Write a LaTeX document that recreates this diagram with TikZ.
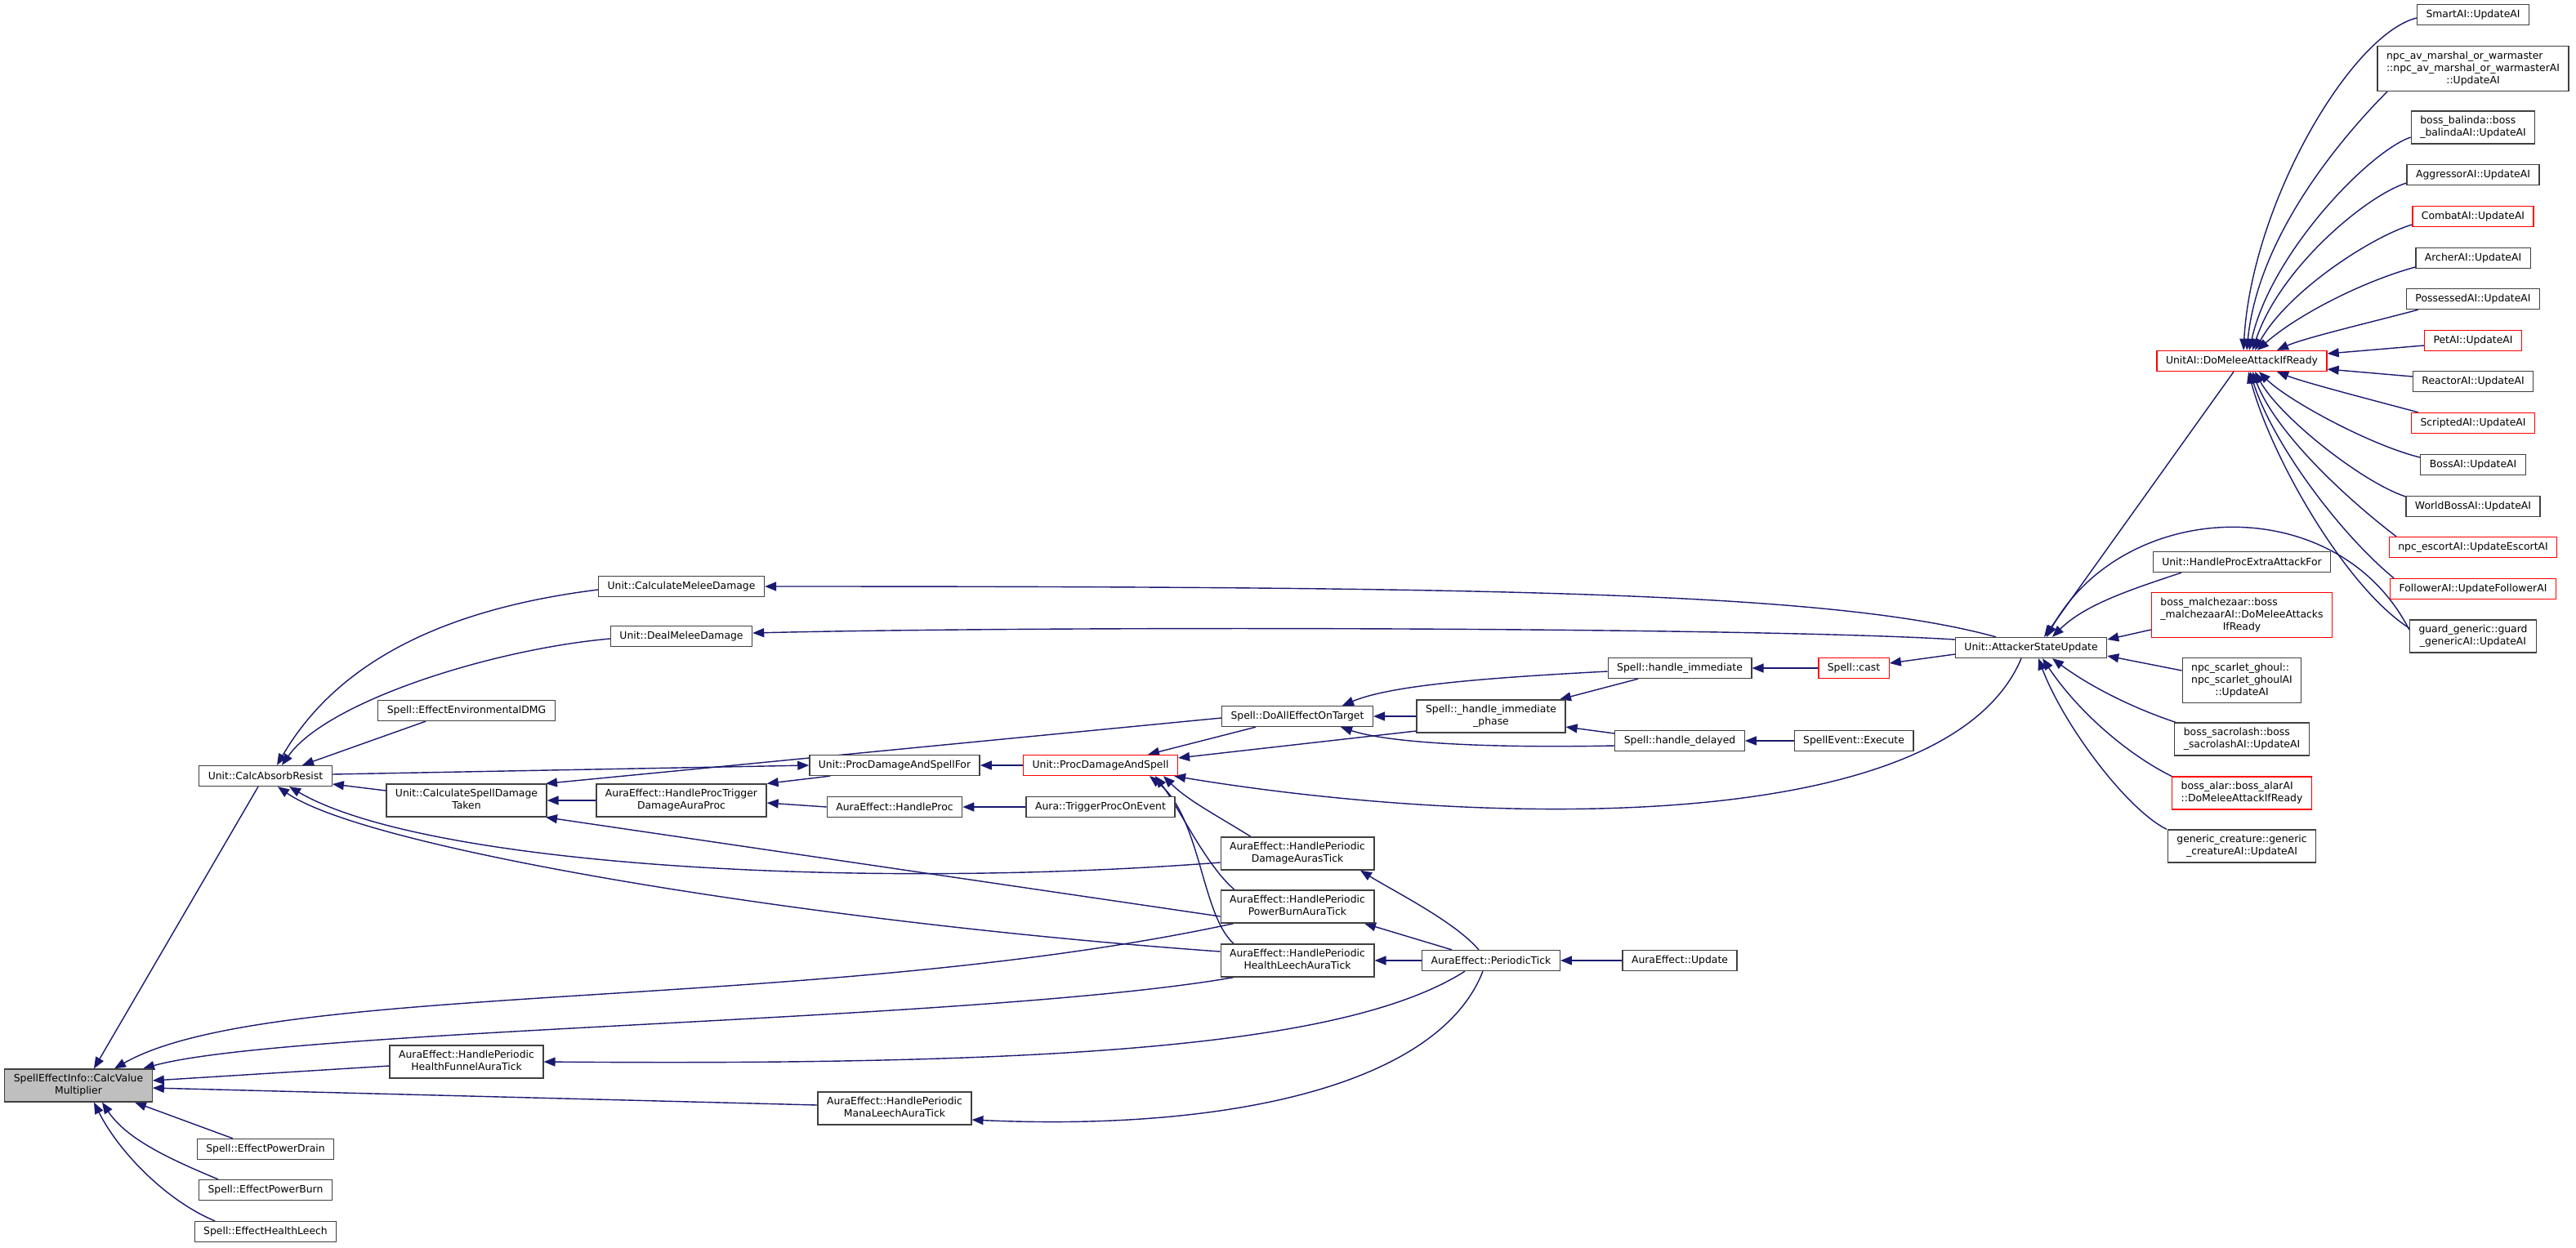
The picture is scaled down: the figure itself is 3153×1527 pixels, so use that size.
\documentclass[tikz,border=0pt]{standalone}
\usepackage{fontspec}
\setmainfont{DejaVu Sans}
\usetikzlibrary{arrows.meta,backgrounds}
\definecolor{edgeblue}{HTML}{191970}
\definecolor{rootgray}{HTML}{BFBFBF}
\definecolor{boxline}{HTML}{404040}
\newcommand\fnfont{\fontsize{12.4}{15}\selectfont}
% first lines left, last line centred (as graphviz does)
\newcommand\labeltwo[2]{\begin{tabular}{@{}l@{}}#1\\\multicolumn{1}{@{}c@{}}{#2}\end{tabular}}
\newcommand\labelthree[3]{\begin{tabular}{@{}l@{}}#1\\#2\\\multicolumn{1}{@{}c@{}}{#3}\end{tabular}}
\tikzset{
  fnbox/.style={draw=boxline, line width=1.3pt, fill=white, inner xsep=11pt, inner ysep=0pt,
    minimum height=25pt, font=\fnfont},
  fnred/.style={fnbox, draw=red},
  fnroot/.style={fnbox, fill=rootgray},
  twoline/.style={minimum height=40pt},
  threeline/.style={minimum height=55pt},
  callline/.style={draw=edgeblue, line width=1.4pt, -{Triangle[length=14pt,width=11pt]}}
}
\begin{document}
\begin{tikzpicture}[x=1pt,y=-1pt]
\useasboundingbox (0,0) rectangle (3153,1527);
% root and its direct callers
\node[fnroot,twoline] (root) at (96,1329) {\labeltwo{SpellEffectInfo::CalcValue}{Multiplier}};
\node[fnbox] (calcabs) at (325,950) {Unit::CalcAbsorbResist};
\node[fnbox] (drain) at (325,1407) {Spell::EffectPowerDrain};
\node[fnbox] (burn) at (325,1457) {Spell::EffectPowerBurn};
\node[fnbox] (hleech) at (325,1508) {Spell::EffectHealthLeech};
\node[fnbox] (envdmg) at (571,870) {Spell::EffectEnvironmentalDMG};
\node[fnbox,twoline] (spelldmg) at (571,980) {\labeltwo{Unit::CalculateSpellDamage}{Taken}};
\node[fnbox,twoline] (funnel) at (571,1300) {\labeltwo{AuraEffect::HandlePeriodic}{HealthFunnelAuraTick}};
\node[fnbox] (meleedmg) at (834,718) {Unit::CalculateMeleeDamage};
\node[fnbox] (dealmelee) at (834,779) {Unit::DealMeleeDamage};
\node[fnbox,twoline] (proctrig) at (834,980) {\labeltwo{AuraEffect::HandleProcTrigger}{DamageAuraProc}};
\node[fnbox] (procfor) at (1095,937) {Unit::ProcDamageAndSpellFor};
\node[fnbox] (handleproc) at (1095,988) {AuraEffect::HandleProc};
\node[fnbox,twoline] (manaleech) at (1095,1357) {\labeltwo{AuraEffect::HandlePeriodic}{ManaLeechAuraTick}};
\node[fnred] (procspell) at (1347,937) {Unit::ProcDamageAndSpell};
\node[fnbox] (trigproc) at (1347,988) {Aura::TriggerProcOnEvent};
% periodic ticks and spell handling
\node[fnbox] (doall) at (1588,877) {Spell::DoAllEffectOnTarget};
\node[fnbox,twoline] (dmgauras) at (1588,1045) {\labeltwo{AuraEffect::HandlePeriodic}{DamageAurasTick}};
\node[fnbox,twoline] (powerburn) at (1588,1110) {\labeltwo{AuraEffect::HandlePeriodic}{PowerBurnAuraTick}};
\node[fnbox,twoline] (hleechtick) at (1588,1176) {\labeltwo{AuraEffect::HandlePeriodic}{HealthLeechAuraTick}};
\node[fnbox,twoline] (hiphase) at (1825,877) {\labeltwo{Spell::\_handle\_immediate}{\_phase}};
\node[fnbox] (periodic) at (1825,1176) {AuraEffect::PeriodicTick};
\node[fnbox] (himm) at (2056,818) {Spell::handle\_immediate};
\node[fnbox] (hdelayed) at (2056,907) {Spell::handle\_delayed};
\node[fnbox] (auraupd) at (2056,1176) {AuraEffect::Update};
\node[fnred] (cast) at (2269,818) {Spell::cast};
\node[fnbox] (evexec) at (2269,907) {SpellEvent::Execute};
\node[fnbox] (attacker) at (2486,793) {Unit::AttackerStateUpdate};
% melee callers
\node[fnred] (domelee) at (2744,442) {UnitAI::DoMeleeAttackIfReady};
\node[fnbox] (extraatt) at (2744,688) {Unit::HandleProcExtraAttackFor};
\node[fnred,threeline] (malchez) at (2744,753) {\labelthree{boss\_malchezaar::boss}{\_malchezaarAI::DoMeleeAttacks}{IfReady}};
\node[fnbox,threeline] (ghoul) at (2744,833) {\labelthree{npc\_scarlet\_ghoul::}{npc\_scarlet\_ghoulAI}{::UpdateAI}};
\node[fnbox,twoline] (sacro) at (2744,905) {\labeltwo{boss\_sacrolash::boss}{\_sacrolashAI::UpdateAI}};
\node[fnred,twoline] (alar) at (2744,971) {\labeltwo{boss\_alar::boss\_alarAI}{::DoMeleeAttackIfReady}};
\node[fnbox,twoline] (genc) at (2744,1036) {\labeltwo{generic\_creature::generic}{\_creatureAI::UpdateAI}};
% AI column
\node[fnbox] (smart) at (3027,18) {SmartAI::UpdateAI};
\node[fnbox,threeline] (marshal) at (3027,84) {\labelthree{npc\_av\_marshal\_or\_warmaster}{::npc\_av\_marshal\_or\_warmasterAI}{::UpdateAI}};
\node[fnbox,twoline] (balinda) at (3027,156) {\labeltwo{boss\_balinda::boss}{\_balindaAI::UpdateAI}};
\node[fnbox] (aggressor) at (3027,214) {AggressorAI::UpdateAI};
\node[fnred] (combat) at (3027,265) {CombatAI::UpdateAI};
\node[fnbox] (archer) at (3027,316) {ArcherAI::UpdateAI};
\node[fnbox] (possessed) at (3027,366) {PossessedAI::UpdateAI};
\node[fnred] (pet) at (3027,417) {PetAI::UpdateAI};
\node[fnbox] (reactor) at (3027,467) {ReactorAI::UpdateAI};
\node[fnred] (scripted) at (3027,518) {ScriptedAI::UpdateAI};
\node[fnbox] (boss) at (3027,569) {BossAI::UpdateAI};
\node[fnbox] (worldboss) at (3027,620) {WorldBossAI::UpdateAI};
\node[fnred] (escort) at (3027,670) {npc\_escortAI::UpdateEscortAI};
\node[fnred] (follower) at (3027,721) {FollowerAI::UpdateFollowerAI};
\node[fnbox,twoline] (guard) at (3027,779) {\labeltwo{guard\_generic::guard}{\_genericAI::UpdateAI}};

\begin{scope}[on background layer]
\fill[white] (0,0) rectangle (3153,1527);
% calls into the root
\draw[callline] ([xshift=-9pt]calcabs.south) -- ([xshift=19pt]root.north);
\draw[callline] ([xshift=-78pt]powerburn.south) .. controls +(-510,110) and +(190,-109) .. ([xshift=44pt]root.north);
\draw[callline] ([xshift=-78pt]hleechtick.south) .. controls +(-310,54) and +(175,-49) .. ([xshift=79pt]root.north);
\draw[callline] ([yshift=-5pt]funnel.west) -- ([yshift=6pt]root.east);
\draw[callline] ([yshift=4pt]manaleech.west) -- ([yshift=-3pt]root.east);
\draw[callline] ([xshift=-40pt]drain.north) -- ([xshift=69pt]root.south);
\draw[callline] ([xshift=-58pt]burn.north) .. controls +(-60,-25) and +(30,45) .. ([xshift=29pt]root.south);
\draw[callline] ([xshift=-62pt]hleech.north) .. controls +(-60,-25) and +(30,60) .. ([xshift=19pt]root.south);
% calls into Unit::CalcAbsorbResist
\draw[callline] ([yshift=-4pt]meleedmg.west) .. controls +(-200,25) and +(70,-120) .. ([xshift=14pt]calcabs.north);
\draw[callline] ([yshift=-3pt]dealmelee.west) .. controls +(-145,13) and +(55,-78) .. ([xshift=20pt]calcabs.north);
\draw[callline] ([xshift=-50pt]envdmg.south) -- ([xshift=45pt]calcabs.north);
\draw[callline] ([yshift=12pt]spelldmg.west) -- ([yshift=-10pt]calcabs.east);
\draw[callline] ([yshift=-11pt]dmgauras.west) .. controls +(-443,34) and +(166,97) .. ([xshift=29pt]calcabs.south);
\draw[callline] ([yshift=11pt]hleechtick.west) .. controls +(-493,-35) and +(110,77) .. ([xshift=15pt]calcabs.south);
% proc chain
\draw[callline] ([yshift=2pt]calcabs.east) -- (procfor.west);
\draw[callline] ([yshift=-2pt]doall.west) -- ([xshift=97pt]spelldmg.north);
\draw[callline] (proctrig.west) -- (spelldmg.east);
\draw[callline] ([xshift=-79pt]procfor.south) -- (proctrig.north east);
\draw[callline] (handleproc.west) -- ([yshift=-3pt]proctrig.east);
\draw[callline] (trigproc.west) -- (handleproc.east);
\draw[callline] (procspell.west) -- (procfor.east);
\draw[callline] ([yshift=-12pt]powerburn.west) -- ([xshift=97pt]spelldmg.south);
% calls into Unit::ProcDamageAndSpell
\draw[callline] ([xshift=-51pt]doall.south) -- ([xshift=58pt]procspell.north);
\draw[callline] ([yshift=-18pt]hiphase.west) -- ([yshift=9pt]procspell.east);
\draw[callline] ([xshift=-12pt]attacker.south) .. controls +(-94,224) and +(360,60) .. ([xshift=-5pt]procspell.south east);
\draw[callline] ([xshift=-57pt]dmgauras.north) .. controls +(-40,-25) and +(30,30) .. ([xshift=77pt]procspell.south);
\draw[callline] ([xshift=-77pt]powerburn.north) .. controls +(-35,-30) and +(30,40) .. ([xshift=67pt]procspell.south);
\draw[callline] ([xshift=-78pt]hleechtick.north) .. controls +(-40,-36) and +(63,50) .. ([xshift=60pt]procspell.south);
% spell handling
\draw[callline] ([yshift=-4pt]himm.west) .. controls +(-150,8) and +(60,-25) .. ([xshift=55pt]doall.north);
\draw[callline] ([xshift=-51pt]himm.south) -- ([xshift=84pt]hiphase.north);
\draw[callline] ([yshift=9pt]hdelayed.west) -- ([yshift=-13pt]hiphase.east);
\draw[callline] ([yshift=-6pt]hdelayed.west) .. controls +(-150,3) and +(60,20) .. ([xshift=53pt]doall.south);
\draw[callline] (hiphase.west) -- (doall.east);
\draw[callline] (cast.west) -- (himm.east);
\draw[callline] (evexec.west) -- (hdelayed.east);
% Unit::AttackerStateUpdate and its callers
\draw[callline] ([yshift=-8pt]attacker.west) -- ([yshift=6pt]cast.east);
\draw[callline] ([xshift=-43pt]attacker.north) .. controls +(-200,-55) and +(900,0) .. (meleedmg.east);
\draw[callline] ([yshift=10pt]attacker.west) .. controls +(-241,-15) and +(376,-9) .. ([yshift=4pt]dealmelee.east);
\draw[callline] ([xshift=-10pt]domelee.south) -- ([xshift=16pt]attacker.north);
\draw[callline] ([xshift=-74pt]extraatt.south) .. controls +(-60,20) and +(40,-40) .. ([xshift=26pt]attacker.north);
\draw[callline] ([yshift=-18pt]malchez.west) -- ([yshift=10pt]attacker.east);
\draw[callline] ([yshift=12pt]ghoul.west) -- ([yshift=-10pt]attacker.east);
\draw[callline] ([xshift=-81pt]sacro.north) .. controls +(-60,-20) and +(40,30) .. ([xshift=26pt]attacker.south);
\draw[callline] ([xshift=-86pt]alar.north) .. controls +(-60,-30) and +(40,60) .. ([xshift=14pt]attacker.south);
\draw[callline] ([xshift=-92pt]genc.north) .. controls +(-50,-25) and +(30,80) .. ([xshift=9pt]attacker.south);
\draw[callline] ([yshift=8pt]guard.west) .. controls +(-88,-172) and +(95,-171) .. ([xshift=19pt]attacker.north);
% calls into UnitAI::DoMeleeAttackIfReady
\draw[callline] ([yshift=-4pt]smart.west) .. controls +(-80,20) and +(10,-180) .. ([xshift=2pt]domelee.north);
\draw[callline] ([xshift=-105pt]marshal.south) .. controls +(-40,40) and +(15,-150) .. ([xshift=6pt]domelee.north);
\draw[callline] ([yshift=-12pt]balinda.west) .. controls +(-50,17) and +(27,-120) .. ([xshift=9pt]domelee.north);
\draw[callline] ([yshift=-10pt]aggressor.west) .. controls +(-50,16) and +(33,-100) .. ([xshift=13pt]domelee.north);
\draw[callline] ([yshift=-10pt]combat.west) .. controls +(-50,15) and +(40,-72) .. ([xshift=16pt]domelee.north);
\draw[callline] ([yshift=-11pt]archer.west) .. controls +(-66,18) and +(47,-42) .. ([xshift=19pt]domelee.north);
\draw[callline] ([xshift=-67pt]possessed.south) .. controls +(-60,16) and +(33,-15) .. ([xshift=43pt]domelee.north);
\draw[callline] ([yshift=-6pt]pet.west) -- ([yshift=9pt]domelee.east);
\draw[callline] ([yshift=6pt]reactor.west) -- ([yshift=-10pt]domelee.east);
\draw[callline] ([xshift=-67pt]scripted.north) .. controls +(-60,-16) and +(33,13) .. ([xshift=43pt]domelee.south);
\draw[callline] ([yshift=9pt]boss.west) .. controls +(-61,-15) and +(35,35) .. ([xshift=21pt]domelee.south);
\draw[callline] ([yshift=12pt]worldboss.west) .. controls +(-54,-18) and +(30,55) .. ([xshift=16pt]domelee.south);
\draw[callline] ([xshift=-94pt]escort.north) .. controls +(-63,-48) and +(28,74) .. ([xshift=13pt]domelee.south);
\draw[callline] ([xshift=-97pt]follower.north) .. controls +(-70,-58) and +(26,84) .. ([xshift=10pt]domelee.south);
\draw[callline] ([yshift=10pt]guard.west) .. controls +(-78,-50) and +(28,105) .. ([xshift=8pt]domelee.south);
% AuraEffect::PeriodicTick
\draw[callline] ([xshift=-15pt]periodic.north) .. controls +(-30,-35) and +(40,25) .. ([xshift=77pt]dmgauras.south);
\draw[callline] ([xshift=-48pt]periodic.north) -- ([xshift=82pt]powerburn.south);
\draw[callline] (periodic.west) -- (hleechtick.east);
\draw[callline] ([xshift=-32pt]periodic.south) .. controls +(-143,91) and +(634,5) .. (funnel.east);
\draw[callline] ([xshift=-10pt]periodic.south) .. controls +(-55,141) and +(310,14) .. ([yshift=-14pt]manaleech.east);
\draw[callline] (auraupd.west) -- (periodic.east);
\end{scope}
\end{tikzpicture}
\end{document}
